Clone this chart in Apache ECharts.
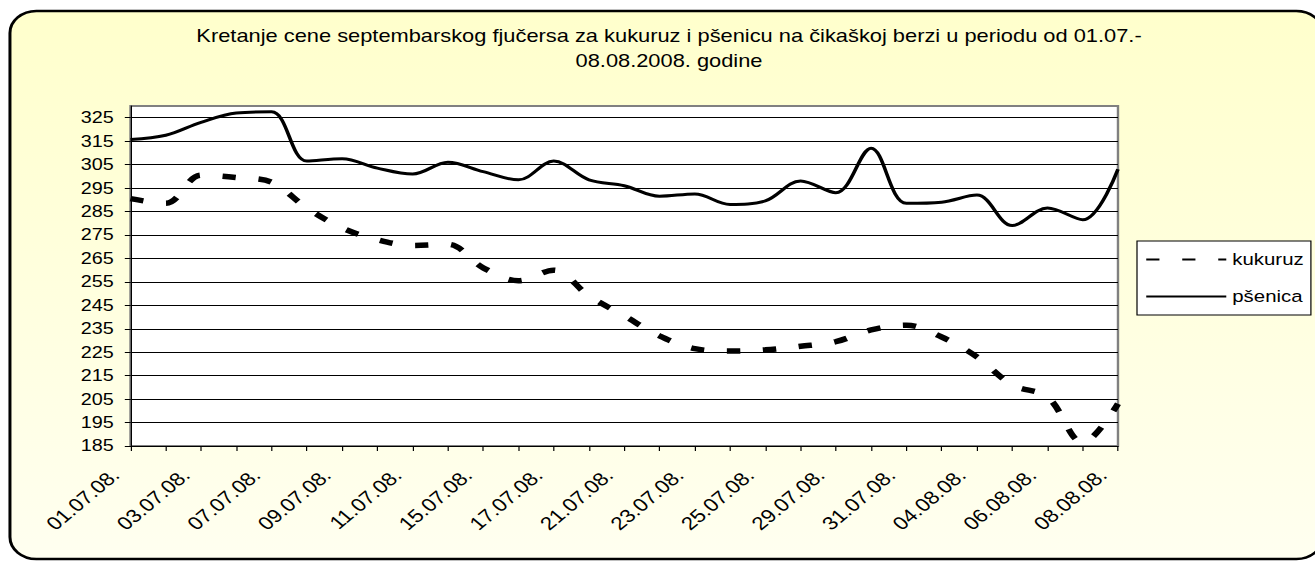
<!DOCTYPE html>
<html>
<head>
<meta charset="utf-8">
<script src="https://cdn.jsdelivr.net/npm/echarts@6/dist/echarts.min.js"></script>
<style>
  html, body { margin: 0; padding: 0; background: #fff; overflow: hidden; }
  /* the original picture is a bit stretched sideways, so draw narrower and stretch */
  #chart { width: 1096px; height: 562px; transform: scaleX(1.2); transform-origin: 0 0; }
</style>
</head>
<body>
<div id="chart"></div>
<script>
const dates = [
  '01.07.08.', '02.07.08.', '03.07.08.', '04.07.08.', '07.07.08.', '08.07.08.',
  '09.07.08.', '10.07.08.', '11.07.08.', '14.07.08.', '15.07.08.', '16.07.08.',
  '17.07.08.', '18.07.08.', '21.07.08.', '22.07.08.', '23.07.08.', '24.07.08.',
  '25.07.08.', '28.07.08.', '29.07.08.', '30.07.08.', '31.07.08.', '01.08.08.',
  '04.08.08.', '05.08.08.', '06.08.08.', '07.08.08.', '08.08.08.'
];
const kukuruz = [
  290.5, 288.5, 300.5, 299.5, 297.5, 286.5, 278, 273, 270.5, 271, 261, 255.5,
  260, 249, 240.5, 232, 226.5, 225.5, 226, 227.5, 229.5, 234.5, 236.5, 231.5,
  223, 211, 206, 186.5, 203
];
const psenica = [
  315.7, 317.5, 323, 327, 327.5, 306.5, 307.5, 303.5, 301, 306, 302, 298.5,
  306.5, 298.5, 296, 291.5, 292.5, 288, 289.5, 298, 293, 312, 288.5, 289,
  292, 279, 286.5, 281.5, 303
];
const yTicks = [185, 195, 205, 215, 225, 235, 245, 255, 265, 275, 285, 295, 305, 315, 325];

const font = "'Liberation Sans', Arial, sans-serif";

const chart = echarts.init(document.getElementById('chart'), null, { renderer: 'svg' });

chart.setOption({
  animation: false,
  title: {
    text: 'Kretanje cene septembarskog fjučersa za kukuruz i pšenicu na čikaškoj berzi u periodu od 01.07.-\n08.08.2008. godine',
    left: 552.5,
    textAlign: 'center',
    top: 18,
    textStyle: { fontSize: 18.2, fontWeight: 'normal', color: '#000', fontFamily: font, lineHeight: 25 }
  },
  graphic: [{
    type: 'rect',
    z: -10,
    shape: { x: 8.3, y: 11, width: 1094, height: 548, r: 22 },
    style: {
      fill: new echarts.graphic.LinearGradient(0, 0, 0, 1, [
        { offset: 0, color: '#FFFFCC' },
        { offset: 1, color: '#FFFFF0' }
      ]),
      stroke: '#000',
      lineWidth: 2.5
    }
  }],
  legend: {
    orient: 'vertical',
    left: 947.5,
    top: 241,
    padding: [10, 6, 10, 6.7],
    itemWidth: 66.7,
    itemHeight: 14,
    itemGap: 20,
    backgroundColor: '#fff',
    borderColor: '#000',
    borderWidth: 1,
    itemStyle: { opacity: 0 },
    textStyle: { fontSize: 17, color: '#000', fontFamily: font },
    data: ['kukuruz', 'pšenica']
  },
  grid: [
    {
      left: 108.75,
      top: 106,
      width: 822.9,
      height: 340,
      show: true,
      backgroundColor: '#fff',
      borderColor: '#808080',
      borderWidth: 2
    },
    // label-only copy of the date axis, set down-left like Excel's rotated labels
    { left: 96.25, top: 124.2, width: 822.9, height: 340, show: false }
  ],
  xAxis: [
    {
      type: 'category',
      data: dates,
      boundaryGap: false,
      axisLine: { lineStyle: { color: '#000', width: 1 } },
      axisTick: { show: true, interval: 0, length: 5, lineStyle: { color: '#000' } },
      axisLabel: { show: false },
      splitLine: { show: false }
    },
    {
      gridIndex: 1,
      type: 'category',
      data: dates,
      boundaryGap: false,
      axisLine: { show: false },
      axisTick: { show: false },
      axisLabel: {
        interval: 1,
        rotate: 45,
        margin: 8,
        fontSize: 18.5,
        color: '#000',
        fontFamily: font
      },
      splitLine: { show: false }
    }
  ],
  yAxis: [
    {
      type: 'value',
      min: 185,
      max: 330,
      axisLine: { show: true, lineStyle: { color: '#000', width: 1 } },
      axisTick: { show: true, length: 4.75, customValues: yTicks, lineStyle: { color: '#000' } },
      axisLabel: { customValues: yTicks, margin: 14, fontSize: 16.5, color: '#000', fontFamily: font },
      splitLine: { show: true, lineStyle: { color: '#000', width: 1 } }
    },
    { gridIndex: 1, type: 'value', show: false }
  ],
  series: [
    {
      name: 'kukuruz',
      type: 'line',
      data: kukuruz,
      smooth: 0.35,
      symbol: 'none',
      itemStyle: { color: '#000' },
      lineStyle: { color: '#000', width: 5.5, type: [11, 19], cap: 'butt' }
    },
    {
      name: 'pšenica',
      type: 'line',
      data: psenica,
      smooth: 0.35,
      symbol: 'none',
      itemStyle: { color: '#000' },
      lineStyle: { color: '#000', width: 3 }
    }
  ]
});
</script>
</body>
</html>
